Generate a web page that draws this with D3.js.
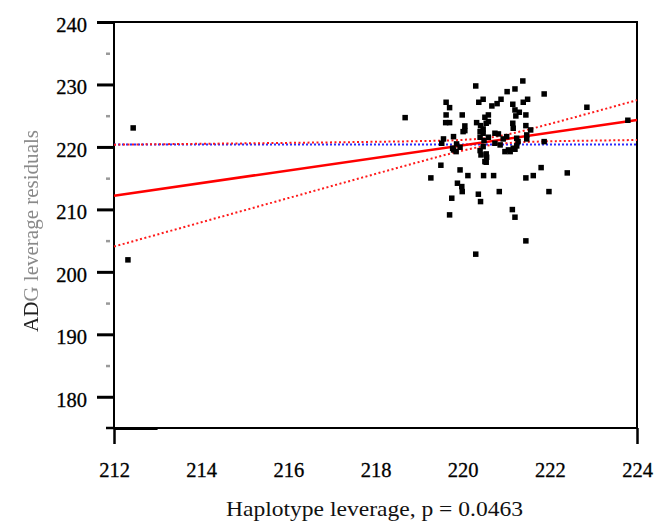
<!DOCTYPE html>
<html><head><meta charset="utf-8">
<script src="https://cdn.jsdelivr.net/npm/d3@7/dist/d3.min.js"></script>
<style>body{margin:0;background:#fff}svg{display:block}</style>
</head><body>
<script>
// ---- data ----
const haplotypeLeverage = [220.30,221.38,221.20,221.02,221.87,219.62,219.70,220.37,220.47,220.88,220.79,220.67,221.15,221.39,221.49,219.62,219.99,222.85,219.61,219.70,220.59,220.51,221.20,221.30,221.22,221.45,220.32,220.41,220.54,220.47,220.05,220.05,221.15,221.16,221.45,221.56,221.47,221.47,220.74,220.82,219.79,219.56,219.52,219.86,219.94,219.85,219.77,220.40,220.49,220.59,220.47,220.40,220.54,220.42,220.93,221.01,220.97,221.09,221.20,221.24,221.87,223.79,219.50,219.27,219.94,220.12,220.54,220.48,220.71,221.80,221.62,221.45,222.40,219.88,219.98,219.99,220.84,221.98,219.75,220.36,220.41,219.70,221.14,221.20,221.45,220.30,212.44,212.32,218.68,221.24,221.27,221.16,221.05,220.74,220.86,220.55,220.51,220.59,220.47,219.79,220.01,220.40];
const adgResidual = [229.76,230.56,229.28,228.85,228.48,227.15,226.29,227.15,227.63,227.63,226.93,226.56,226.83,227.15,227.63,225.12,225.12,226.35,223.89,223.89,225.12,224.75,225.92,225.55,224.96,225.12,223.89,223.41,223.79,222.88,223.36,222.61,223.79,222.99,223.41,222.72,221.92,221.28,222.19,222.08,221.65,221.28,220.59,220.48,219.95,219.25,219.79,221.55,221.01,221.55,220.05,219.41,218.88,218.72,221.28,221.65,219.25,219.25,219.63,220.16,220.85,224.27,217.07,215.04,216.32,215.41,217.55,215.41,215.41,216.69,215.41,215.04,215.84,214.19,213.65,212.85,212.85,212.85,211.79,212.43,211.25,209.12,209.97,208.75,204.96,202.83,223.04,201.92,224.69,221.39,220.85,219.79,219.52,220.59,220.32,218.35,217.65,224.05,222.19,219.52,222.45,222.45];
const fitX = [212, 224];
const fitY = [212.2, 224.3];
const meanY = 220.4;
const bandX = [212,213,214,215,216,217,218,219,220,220.66,221,222,223,224];
const bandUpper = [220.36,220.43,220.50,220.57,220.65,220.73,220.82,220.93,221.13,221.53,221.96,223.68,225.57,227.49];
const bandLower = [204.05,205.99,207.93,209.87,211.81,213.75,215.68,217.59,219.41,220.33,220.60,220.90,221.01,221.11];
const xLabelTicks = [212,214,216,218,220,222,224];
const xMinorTicks = [213,214,215,216,217,218,219,220,221,222,223];
const xMajorTicks = [212,224];
const yMajorTicks = [180,190,200,210,220,230,240];
const yMinorTicks = [185,195,205,215,225,235];
const xTitle = "Haplotype leverage, p = 0.0463";
const yTitleDark = "AD";
const yTitleFaded = "G leverage residuals";

// ---- drawing ----
const W = 654, H = 523;
const L = 114, R = 637, T = 22, B = 428;
const svg = d3.select("body").append("svg").attr("width", W).attr("height", H);
const defs = svg.append("defs");
defs.append("filter").attr("id","blur").append("feGaussianBlur").attr("stdDeviation",0.7);
defs.append("filter").attr("id","blur2").append("feGaussianBlur").attr("stdDeviation",0.6);

const x = d3.scaleLinear().domain([212,224]).range([L,R]);
const y = d3.scaleLinear().domain([175,240]).range([B,T]);
const font = "'Liberation Serif', 'Times New Roman', serif";
const fs = 20.5;

// minor y ticks (gray)
svg.append("g").attr("transform",`translate(${L-4},0)`)
  .call(d3.axisLeft(y).tickValues(yMinorTicks).tickSize(4).tickFormat(""))
  .call(g=>g.select(".domain").remove())
  .call(g=>g.selectAll("line").attr("stroke","#9a9a9a").attr("stroke-width",2.5));

// major y ticks
svg.append("g").attr("transform",`translate(${L},0)`)
  .call(d3.axisLeft(y).tickValues(yMajorTicks).tickSize(17).tickPadding(10))
  .call(g=>g.select(".domain").remove())
  .call(g=>g.selectAll("line").attr("stroke","#000").attr("stroke-width",3))
  .call(g=>g.selectAll("text").attr("font-family",font).attr("font-size",fs).attr("fill","#000")
    .attr("stroke","#000").attr("stroke-width",0.3).attr("dy","0.45em"));

// x minor ticks (gray)
svg.append("g").attr("transform",`translate(0,${B})`)
  .call(d3.axisBottom(x).tickValues(xMinorTicks).tickSize(15).tickFormat(""))
  .call(g=>g.select(".domain").remove())
  .call(g=>g.selectAll("line").attr("stroke","#8c8c8c").attr("stroke-width",2).attr("filter","url(#blur)"));

// x major ticks
svg.append("g").attr("transform",`translate(0,${B})`)
  .call(d3.axisBottom(x).tickValues(xMajorTicks).tickSize(16).tickFormat(""))
  .call(g=>g.select(".domain").remove())
  .call(g=>g.selectAll("line").attr("stroke","#000").attr("stroke-width",2.5));

// x labels
svg.append("g").attr("transform",`translate(0,${B})`)
  .call(d3.axisBottom(x).tickValues(xLabelTicks).tickSize(0).tickPadding(34))
  .call(g=>g.select(".domain").remove())
  .call(g=>g.selectAll("text").attr("font-family",font).attr("font-size",fs).attr("fill","#000")
    .attr("stroke","#000").attr("stroke-width",0.3));

// frame
svg.append("rect").attr("x",L).attr("y",T).attr("width",R-L).attr("height",B-T)
  .attr("fill","none").attr("stroke","#000").attr("stroke-width",2);
svg.append("line").attr("x1",L-8).attr("x2",L).attr("y1",B).attr("y2",B).attr("stroke","#000").attr("stroke-width",2.5);
svg.append("line").attr("x1",L).attr("x2",x(213)).attr("y1",B+0.5).attr("y2",B+0.5).attr("stroke","#000").attr("stroke-width",3);

const plot = svg.append("g");
const line = d3.line().x(d=>x(d[0])).y(d=>y(d[1]));
const curve = d3.line().x(d=>x(d[0])).y(d=>y(d[1])).curve(d3.curveMonotoneX);

// mean horizontal line (blue dotted)
plot.append("path").attr("d", line([[212,meanY],[224,meanY]]))
  .attr("fill","none").attr("stroke","#2b2bff").attr("stroke-width",2).attr("stroke-dasharray","2,2");
// confidence curves (red dotted)
plot.append("path").attr("d", curve(bandX.map((v,i)=>[v,bandUpper[i]])))
  .attr("fill","none").attr("stroke","#ff1a1a").attr("stroke-width",2).attr("stroke-dasharray","2,2.5");
plot.append("path").attr("d", curve(bandX.map((v,i)=>[v,bandLower[i]])))
  .attr("fill","none").attr("stroke","#ff1a1a").attr("stroke-width",2).attr("stroke-dasharray","2,2.5");
// fit line
plot.append("path").attr("d", line(fitX.map((v,i)=>[v,fitY[i]])))
  .attr("fill","none").attr("stroke","#ff0000").attr("stroke-width",2.5);

// points
const s = 5.5;
plot.selectAll("rect.pt").data(haplotypeLeverage.map((v,i)=>[v,adgResidual[i]]))
  .join("rect").attr("class","pt")
  .attr("x",d=>x(d[0])-s/2).attr("y",d=>y(d[1])-s/2)
  .attr("width",s).attr("height",s).attr("fill","#000");

// titles
svg.append("text").attr("x",226).attr("y",516)
  .attr("textLength",297).attr("lengthAdjust","spacingAndGlyphs")
  .attr("font-family",font).attr("font-size",21).attr("fill","#111").text(xTitle);
const yt = svg.append("text").attr("transform","translate(38,332) rotate(-90)").attr("text-anchor","start")
  .attr("font-family",font).attr("font-size",20.5).attr("textLength",202).attr("lengthAdjust","spacingAndGlyphs");
yt.append("tspan").attr("fill","#222").text(yTitleDark);
yt.append("tspan").attr("fill","#8a8a8a").text(yTitleFaded);
yt.attr("filter","url(#blur2)");
</script>
</body></html>
